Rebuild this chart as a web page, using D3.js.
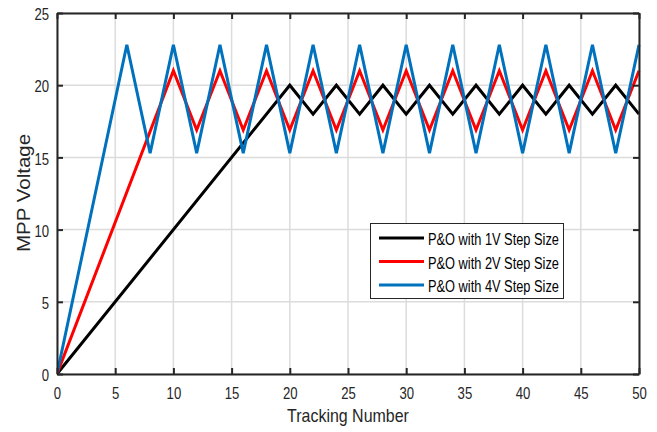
<!DOCTYPE html>
<html><head><meta charset="utf-8">
<script src="https://cdn.jsdelivr.net/npm/d3@7"></script>
<style>body{margin:0;background:#fff}svg{display:block}</style>
</head><body>
<svg id="c" width="657" height="432"></svg>
<script>
const xTicks = [0,5,10,15,20,25,30,35,40,45,50];
const yTicks = [0,5,10,15,20,25];
const seriesNames = ["P&O with 1V Step Size","P&O with 2V Step Size","P&O with 4V Step Size"];
const seriesColors = ["#000000","#ff0000","#0072bd"];
const x1V = [0,20,22,24,26,28,30,32,34,36,38,40,42,44,46,48,50];
const y1V = [0,20,18,20,18,20,18,20,18,20,18,20,18,20,18,20,18];
const x2V = [0,10,12,14,16,18,20,22,24,26,28,30,32,34,36,38,40,42,44,46,48,50];
const y2V = [0,21,16.9,21,16.9,21,16.9,21,16.9,21,16.9,21,16.9,21,16.9,21,16.9,21,16.9,21,16.9,21];
const x4V = [0,6,8,10,12,14,16,18,20,22,24,26,28,30,32,34,36,38,40,42,44,46,48,50];
const y4V = [0,22.8,15.3,22.8,15.3,22.8,15.3,22.8,15.3,22.8,15.3,22.8,15.3,22.8,15.3,22.8,15.3,22.8,15.3,22.8,15.3,22.8,15.3,22.8];

(function(){
const font = "'Liberation Sans',Arial,sans-serif";
const svg = d3.select("#c");
const L=57, R=639, T=13, B=374;
const x = d3.scaleLinear().domain([0,50]).range([L,R]);
const y = d3.scaleLinear().domain([0,25]).range([B,T]);

function condense(sel, f){
  sel.each(function(){
    const w = this.getComputedTextLength();
    if (w>0) d3.select(this).attr("textLength", w*f).attr("lengthAdjust","spacingAndGlyphs");
  });
}

// grid
const g = svg.append("g");
g.selectAll(".gx").data(xTicks).join("line")
  .attr("x1",d=>x(d)).attr("x2",d=>x(d)).attr("y1",T).attr("y2",B)
  .attr("stroke","#dcdcdc").attr("stroke-width",1.5);
g.selectAll(".gy").data(yTicks).join("line")
  .attr("y1",d=>y(d)).attr("y2",d=>y(d)).attr("x1",L).attr("x2",R)
  .attr("stroke","#dcdcdc").attr("stroke-width",1.5);

// series
const series = [[x1V,y1V],[x2V,y2V],[x4V,y4V]];
const line = d3.line().x(d=>x(d[0])).y(d=>y(d[1]));
svg.append("defs").append("clipPath").attr("id","clip").append("rect")
  .attr("x",L).attr("y",T-3).attr("width",R-L+3).attr("height",B-T+3);
series.forEach((s,i)=>{
  svg.append("path").datum(s[0].map((v,j)=>[v,s[1][j]]))
    .attr("d",line).attr("fill","none").attr("stroke",seriesColors[i])
    .attr("stroke-width",3).attr("stroke-linejoin","miter").attr("clip-path","url(#clip)");
});

// axes
const ax = svg.append("g").attr("font-family",font);
const xb = ax.append("g").attr("transform",`translate(0,${B})`)
  .call(d3.axisBottom(x).tickValues(xTicks).tickSizeInner(-6).tickSizeOuter(0).tickPadding(14));
ax.append("g").attr("transform",`translate(0,${T})`)
  .call(d3.axisTop(x).tickValues(xTicks).tickSizeInner(-6).tickSizeOuter(0).tickFormat(""));
const yl = ax.append("g").attr("transform",`translate(${L},0)`)
  .call(d3.axisLeft(y).tickValues(yTicks).tickSizeInner(-6).tickSizeOuter(0).tickPadding(8));
ax.append("g").attr("transform",`translate(${R},0)`)
  .call(d3.axisRight(y).tickValues(yTicks).tickSizeInner(-6).tickSizeOuter(0).tickFormat(""));
ax.selectAll(".domain").attr("stroke","#262626").attr("stroke-width",2);
ax.selectAll(".tick line").attr("stroke","#262626").attr("stroke-width",2);
ax.selectAll(".tick text").attr("font-size",16).attr("fill","#262626").attr("font-family",font);
yl.selectAll(".tick text").attr("dy","0.42em");
condense(ax.selectAll(".tick text"), 0.82);

// axis labels
const xt = svg.append("text").attr("x",(L+R)/2).attr("y",422).attr("text-anchor","middle")
  .attr("font-family",font).attr("font-size",19).attr("fill","#262626").text("Tracking Number");
condense(xt, 0.84);
const yt = svg.append("text").attr("transform",`translate(30,193) rotate(-90)`).attr("text-anchor","middle")
  .attr("font-family",font).attr("font-size",19).attr("fill","#262626").text("MPP Voltage");
condense(yt, 1.08);

// legend
const lg = svg.append("g");
lg.append("rect").attr("x",370.5).attr("y",223.5).attr("width",193).attr("height",75)
  .attr("fill","#fff").attr("stroke","#262626").attr("stroke-width",1);
seriesNames.forEach((n,i)=>{
  const yy = 238 + i*23.5;
  lg.append("line").attr("x1",379).attr("x2",424).attr("y1",yy).attr("y2",yy)
    .attr("stroke",seriesColors[i]).attr("stroke-width",3);
  const t = lg.append("text").attr("x",428).attr("y",yy+7).attr("font-family",font)
    .attr("font-size",16).attr("fill","#000").text(n);
  condense(t, 0.8);
});
})();
</script>
</body></html>
